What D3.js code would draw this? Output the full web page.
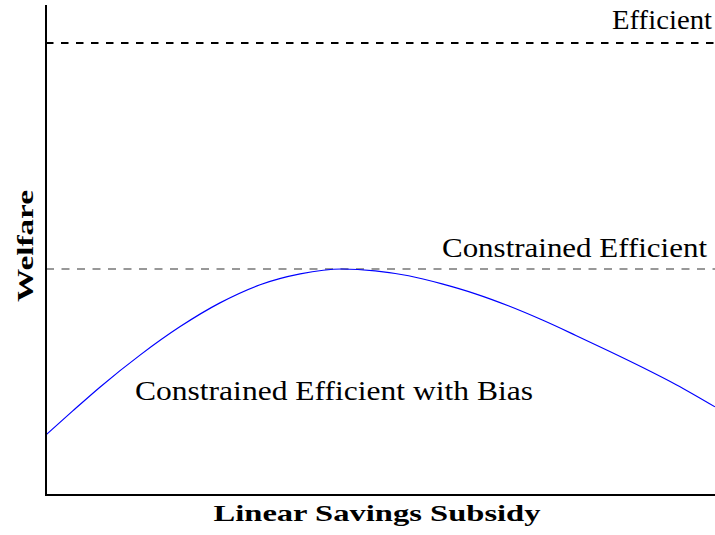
<!DOCTYPE html>
<html>
<head>
<meta charset="utf-8">
<script src="https://cdn.jsdelivr.net/npm/d3@7"></script>
<style>
  html, body { margin: 0; padding: 0; background: #fff; }
</style>
</head>
<body>
<div id="chart"></div>
<script>
// subsidy level (0..1) and welfare of the biased constrained-efficient economy
const subsidy = [0, 0.04, 0.081, 0.141, 0.2, 0.26, 0.32, 0.38, 0.442,
  0.492, 0.542, 0.592, 0.642, 0.692, 0.742, 0.792, 0.842, 0.892, 0.942, 1.0];
const welfareBias = [0.133, 0.186, 0.239, 0.310, 0.372, 0.425, 0.465, 0.489, 0.5,
  0.496, 0.485, 0.467, 0.445, 0.418, 0.387, 0.353, 0.318, 0.282, 0.244, 0.195];
const efficientLevel = 1.0;
const constrainedLevel = 0.5;
const labels = ['Efficient', 'Constrained Efficient', 'Constrained Efficient with Bias'];

const FONT = 'Liberation Serif';
const W = 715, H = 535;
const margin = { top: 5, left: 46, right: 0, bottom: 40 };

const x = d3.scaleLinear().domain([0, 1]).range([margin.left, W - margin.right]);
const y = d3.scaleLinear().domain([0, 1.084]).range([H - margin.bottom, margin.top]);

const svg = d3.select('#chart')
  .append('svg')
  .attr('width', W)
  .attr('height', H);

/** reference levels */
svg.append('line')
  .attr('x1', x(0)).attr('x2', x(1))
  .attr('y1', y(efficientLevel)).attr('y2', y(efficientLevel))
  .style('stroke', '#000')
  .style('stroke-width', 2)
  .style('stroke-dasharray', '7.5,7.5');

svg.append('line')
  .attr('x1', x(0)).attr('x2', x(1))
  .attr('y1', y(constrainedLevel)).attr('y2', y(constrainedLevel))
  .style('stroke', '#777')
  .style('stroke-width', 1.6)
  .style('stroke-dasharray', '8,7.5');

/** welfare curve */
const line = d3.line()
  .x((d, i) => x(subsidy[i]))
  .y(d => y(d))
  .curve(d3.curveMonotoneX);

svg.append('path')
  .datum(welfareBias)
  .attr('d', line)
  .style('fill', 'none')
  .style('stroke', '#0000ff')
  .style('stroke-width', 1.2);

/** axes (no ticks) */
svg.append('line')
  .attr('x1', x(0)).attr('x2', x(0))
  .attr('y1', y.range()[1]).attr('y2', y(0) + 1)
  .style('stroke', '#000').style('stroke-width', 2);
svg.append('line')
  .attr('x1', x(0) - 1).attr('x2', x(1))
  .attr('y1', y(0)).attr('y2', y(0))
  .style('stroke', '#000').style('stroke-width', 2);

function label(t, px, py, anchor, size, width, weight) {
  return svg.append('text')
    .attr('x', px).attr('y', py)
    .attr('text-anchor', anchor)
    .style('font-family', FONT)
    .style('font-size', size + 'px')
    .style('font-weight', weight || 'normal')
    .attr('fill', '#000')
    .attr('textLength', width)
    .attr('lengthAdjust', 'spacingAndGlyphs')
    .text(t);
}

/** curve labels */
label(labels[0], 712, 29, 'end', 27, 100);
label(labels[1], 707, 257, 'end', 27, 265);
label(labels[2], 135, 400, 'start', 27, 398);

/** axis titles */
label('Linear Savings Subsidy', 377, 521, 'middle', 24, 327, 'bold');
label('Welfare', 0, 0, 'middle', 24, 112, 'bold')
  .attr('transform', 'translate(33, 246) rotate(-90)');
</script>
</body>
</html>
